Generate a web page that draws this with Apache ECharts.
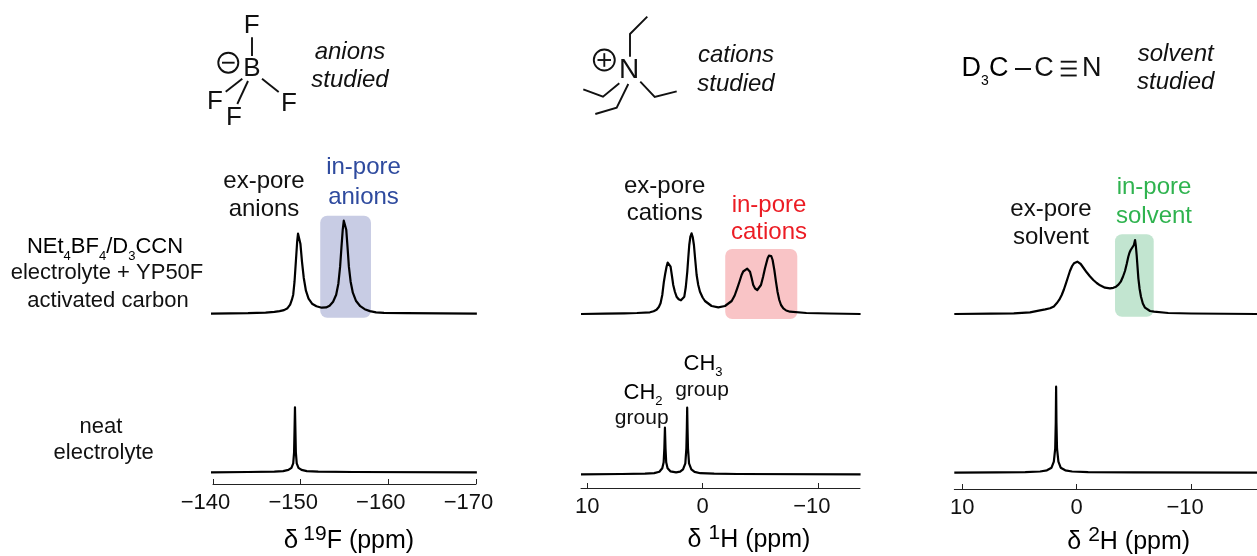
<!DOCTYPE html>
<html>
<head>
<meta charset="utf-8">
<script src="https://cdn.jsdelivr.net/npm/echarts@6/dist/echarts.min.js"></script>
<style>html,body{margin:0;padding:0;background:#fff}#c{width:1257px;height:556px}</style>
</head>
<body>
<div id="c"></div>
<script>
// Spectra: [chemical shift in ppm, intensity].
var fluorinePoreSpectrum = [[-139.7,0],[-142,0.3],[-144,0.5],[-146,1.1],[-147,1.8],[-147.6,2.6],[-148.1,3.6],[-148.5,5.5],[-148.8,9],[-149,14],[-149.15,19],[-149.3,32],[-149.45,52],[-149.6,72],[-149.7,80],[-149.77,82],[-149.85,80],[-149.97,70],[-150.15,52],[-150.35,36],[-150.6,23],[-150.9,15],[-151.3,10],[-151.8,7.5],[-152.4,6],[-152.9,6.3],[-153.3,8],[-153.7,12],[-154.05,19],[-154.3,30],[-154.5,47],[-154.65,66],[-154.8,84],[-154.92,93],[-155,95],[-155.08,93],[-155.2,84],[-155.35,66],[-155.5,47],[-155.7,32],[-155.95,21],[-156.3,13],[-156.8,7.5],[-157.3,4.5],[-157.9,2.6],[-158.6,1.4],[-159.5,0.8],[-162,0.5],[-166,0.3],[-170.1,0]];
var fluorineNeatSpectrum = [[-139.7,0],[-144,0.3],[-147,0.6],[-148,1.2],[-148.6,2.4],[-148.95,4.5],[-149.15,9],[-149.25,20],[-149.3,42],[-149.35,65],[-149.4,42],[-149.45,20],[-149.55,9],[-149.75,4.5],[-150.1,2.4],[-150.7,1.2],[-152,0.6],[-156,0.3],[-170.1,0]];
var protonPoreSpectrum = [[10.55,0],[8.5,0.3],[6.8,0.7],[5.7,1],[4.57,1.7],[4.25,2.8],[4,4.2],[3.8,7],[3.65,10.7],[3.5,19],[3.36,32.3],[3.25,40],[3.13,47.3],[3.03,51.5],[2.95,53],[2.87,51.5],[2.78,47.3],[2.66,38],[2.55,29],[2.4,22],[2.26,17.3],[2.08,14.8],[1.88,13.7],[1.72,14.8],[1.59,17.3],[1.46,27],[1.33,42.3],[1.24,57],[1.16,69],[1.06,77.5],[0.96,80.7],[0.86,77],[0.755,69],[0.64,54],[0.52,39],[0.38,29],[0.23,22.3],[0,16.5],[-0.2,13],[-0.78,8],[-1.36,6.7],[-1.94,8],[-2.52,13],[-2.78,18.5],[-3,25.7],[-3.2,32.5],[-3.38,39],[-3.52,42.5],[-3.67,44.5],[-3.87,45.3],[-4,44.3],[-4.11,42.3],[-4.25,36],[-4.39,29],[-4.55,25.5],[-4.74,24],[-4.9,25.5],[-5.06,29],[-5.24,37],[-5.41,45.7],[-5.53,51],[-5.64,55.7],[-5.75,58.3],[-5.84,59],[-5.95,58],[-6.07,54],[-6.22,44],[-6.36,32.3],[-6.5,22],[-6.65,14],[-6.8,9],[-7,5.7],[-7.25,3.5],[-7.58,2.3],[-9,1],[-11,0.5],[-13.7,0]];
var protonNeatSpectrum = [[10.55,0],[7,0.3],[5,0.6],[4.2,1.2],[3.75,2.5],[3.5,6],[3.38,12],[3.32,26],[3.27,46.6],[3.22,26],[3.16,12],[3.04,6],[2.8,3],[2.3,2],[1.95,2.6],[1.7,5],[1.5,11],[1.41,26],[1.37,46],[1.34,66.6],[1.31,46],[1.27,26],[1.18,11],[0.98,5],[0.7,2.4],[0.2,1.1],[-1,0.6],[-3,0.3],[-13.7,0]];
var deuteriumPoreSpectrum = [[10.7,0],[7.5,0.3],[5.5,0.7],[4.08,1.7],[3.21,3.7],[2.75,4.6],[2.33,5.7],[2,7.6],[1.75,10.7],[1.52,14.3],[1.31,19],[1.12,24.5],[0.94,30.7],[0.76,37],[0.59,43],[0.4,48],[0.24,50.7],[0.1,52],[-0.055,52.3],[-0.2,51.5],[-0.35,50],[-0.6,46],[-0.87,41.7],[-1.15,37.7],[-1.45,34],[-1.75,31],[-2.04,28.7],[-2.47,26.3],[-2.91,25.7],[-3.2,26.2],[-3.44,27.3],[-3.65,29.3],[-3.85,32.3],[-4.05,37.5],[-4.22,43],[-4.37,50],[-4.51,57.3],[-4.62,61.5],[-4.72,64],[-4.89,65.7],[-5,69],[-5.1,74],[-5.17,68],[-5.24,59],[-5.39,35.7],[-5.5,25],[-5.62,17.3],[-5.78,10.5],[-5.97,6.3],[-6.41,3],[-6.76,2.3],[-8,1],[-10,0.5],[-15.8,0]];
var deuteriumNeatSpectrum = [[10.7,0],[7,0.3],[4.5,0.6],[3.2,1.2],[2.6,2.4],[2.2,5],[2,11],[1.88,24],[1.83,50],[1.8,86],[1.77,50],[1.72,24],[1.6,11],[1.4,5],[1,2.4],[0.4,1.2],[-1,0.6],[-5,0.3],[-15.8,0]];

// Shaded in-pore bands: [shift start, shift end, intensity top, intensity bottom]
var anionBand = [[-152.23,-158.02,98,-4]];
var cationBand = [[-1.96,-8.21,65,-5]];
var solventBand = [[-3.35,-6.73,79.7,-2.7]];

var fluorineTicks = [-140,-150,-160,-170];
var protonTicks = [10,0,-10];
var deuteriumTicks = [10,0,-10];

var FONT = '"Liberation Sans", Helvetica, Arial, sans-serif';
var columns = [
  {left:213,  width:263,   min:-170,   max:-140,  ticks:fluorineTicks,  pore:fluorinePoreSpectrum,  neat:fluorineNeatSpectrum,  band:anionBand,   color:'#c8cce4', b1:313.7, b2:472.3, axisY:484, margin:7.5, shift:15},
  {left:581,  width:279,   min:-13.65, max:10.55, ticks:protonTicks,    pore:protonPoreSpectrum,    neat:protonNeatSpectrum,    band:cationBand,  color:'#f9c4c6', b1:314,   b2:474.3, axisY:488, margin:7.5, shift:12},
  {left:954.3,width:302.7, min:-15.76, max:10.7,  ticks:deuteriumTicks, pore:deuteriumPoreSpectrum, neat:deuteriumNeatSpectrum, band:solventBand, color:'#c2e5d0', b1:314,   b2:472.7, axisY:489, margin:7.5, shift:12}
];

var grids=[],xAxes=[],yAxes=[],series=[];
columns.forEach(function(c){
  var rows=[
    {top:c.b1-120,h:136,ymin:-16,ymax:120,data:c.pore,show:false,band:c.band},
    {top:c.b2-100,h:100+(c.axisY-c.b2),ymin:-(c.axisY-c.b2),ymax:100,data:c.neat,show:true}
  ];
  rows.forEach(function(r){
    var i=grids.length;
    grids.push({left:c.left,width:c.width,top:r.top,height:r.h,containLabel:false});
    xAxes.push({gridIndex:i,type:'value',inverse:true,min:c.min,max:c.max,show:r.show,splitLine:{show:false},
      axisLine:{show:true,onZero:false,lineStyle:{color:'#222',width:1}},
      axisTick:{show:true,inside:true,length:5,lineStyle:{color:'#222',width:1},customValues:c.ticks},
      axisLabel:{show:true,margin:c.margin,fontFamily:FONT,fontSize:22,color:'#111',hideOverlap:false,showMinLabel:true,showMaxLabel:true,customValues:c.ticks,
        rich:{neg:{fontFamily:FONT,fontSize:22,color:'#111',padding:[0,c.shift,0,0]},pos:{fontFamily:FONT,fontSize:22,color:'#111'}},
        formatter:function(v){return v<0?'{neg|'+String(v).replace('-','\u2212')+'}':'{pos|'+v+'}';}}
    });
    yAxes.push({gridIndex:i,type:'value',min:r.ymin,max:r.ymax,show:false,splitLine:{show:false}});
    if(r.band){
      var col=c.color;
      series.push({type:'custom',xAxisIndex:i,yAxisIndex:i,coordinateSystem:'cartesian2d',z:1,silent:true,clip:false,
        data:r.band,encode:{x:[0,1],y:[2,3]},
        renderItem:function(p,api){
          var a=api.coord([api.value(0),api.value(2)]),b=api.coord([api.value(1),api.value(3)]);
          return {type:'rect',shape:{x:a[0],y:a[1],width:b[0]-a[0],height:b[1]-a[1],r:7},style:{fill:col}};
        }});
    }
    series.push({type:'line',xAxisIndex:i,yAxisIndex:i,data:r.data,z:3,symbol:'none',clip:false,smooth:false,silent:true,
      lineStyle:{color:'#000',width:2.2,join:'round'},animation:false});
  });
});

function richOf(lh){
  return {
    n:{fontFamily:FONT,fontSize:22,color:'#111',lineHeight:lh},
    c:{fontFamily:FONT,fontSize:22,color:'#111',lineHeight:lh},
    s:{fontFamily:FONT,fontSize:13,color:'#111',verticalAlign:'bottom'},
    a:{fontFamily:FONT,fontSize:25,color:'#111',lineHeight:lh},
    g:{fontFamily:FONT,fontSize:26,color:'#111',lineHeight:lh,padding:[0,5,0,0]},
    u:{fontFamily:FONT,fontSize:21,color:'#111',verticalAlign:'top'},
    d:{fontFamily:FONT,fontSize:27,color:'#111',lineHeight:lh},
    t:{fontFamily:FONT,fontSize:14,color:'#111',verticalAlign:'bottom'}
  };
}
function T(text,x,y,size,color,extra){
  var st={text:text,fontFamily:FONT,fontSize:size,fill:color||'#111',align:'center',verticalAlign:'middle'};
  if(extra) for(var k in extra) st[k]=extra[k];
  return {type:'text',x:x,y:y,style:st,z:10,silent:true};
}
function R(text,x,y,lh){
  return {type:'text',x:x,y:y,z:10,silent:true,style:{text:text,rich:richOf(lh),align:'center',verticalAlign:'middle',fontFamily:FONT}};
}
function L(pts,w){return {type:'polyline',z:10,silent:true,shape:{points:pts},style:{stroke:'#111',lineWidth:w||1.9,fill:null}};}
function Circ(x,y,r){return {type:'circle',z:10,silent:true,shape:{cx:x,cy:y,r:r},style:{stroke:'#111',lineWidth:1.9,fill:null}};}

var g=[
  // BF4 structure
  T('F',251.7,25.5,26),T('B',252,69,26),T('F',215,102,26),T('F',234,118,26),T('F',289,103.5,26),
  L([[252,37.3],[252,56]]),L([[242.3,78.7],[225.7,91.7]]),L([[248,81],[237.3,104]]),L([[262,78.7],[278.7,92]]),
  Circ(228.3,62.7,10),L([[222,62.7],[234.6,62.7]]),
  T('anions',350,52,24,'#111',{fontStyle:'italic'}),T('studied',350,80,24,'#111',{fontStyle:'italic'}),
  // NEt4 structure
  T('N',629,70.5,28),
  L([[647.3,16.7],[630,34],[630,56.7]]),L([[619.3,83.3],[603,96.7],[583.3,89.3]]),L([[628.3,84],[616.7,107.7],[595.3,114]]),L([[640.3,81.7],[654.7,97],[676.7,91.3]]),
  Circ(604.3,60,10.5),L([[597.5,60],[611,60]]),L([[604.3,53.2],[604.3,66.8]]),
  T('cations',736,55,24,'#111',{fontStyle:'italic'}),T('studied',736,84,24,'#111',{fontStyle:'italic'}),
  // D3CCN structure
  R('{d|D}{t|3}{d|C}',985,68.5,40),T('C',1044,68.5,27),T('N',1091.7,68.5,27),
  L([[1015,69],[1031,69]],2),L([[1060.7,61.7],[1076.7,61.7]],1.9),L([[1060.7,68.5],[1076.7,68.5]],1.9),L([[1060.7,75.5],[1076.7,75.5]],1.9),
  T('solvent',1175.7,54,24,'#111',{fontStyle:'italic'}),T('studied',1175.7,82.3,24,'#111',{fontStyle:'italic'}),
  // row labels
  R('{n|NEt}{s|4}{n|BF}{s|4}{n|/D}{s|3}{n|CCN}',105,247,32),
  T('electrolyte + YP50F',107,273,22),T('activated carbon',108,300.7,22),
  T('neat',101,426.7,22),T('electrolyte',103.7,452.7,22),
  // peak labels
  T('ex-pore',264,181.5,24),T('anions',264,209.5,24),
  T('in-pore',363.5,167,24,'#2e4a9e'),T('anions',363.5,197,24,'#2e4a9e'),
  T('ex-pore',664.7,186.7,24),T('cations',664.7,213.3,24),
  T('in-pore',769,205,24,'#ec1c24'),T('cations',769,232.3,24,'#ec1c24'),
  T('ex-pore',1051,209,24),T('solvent',1051,237.7,24),
  T('in-pore',1154,187,24,'#2fb34f'),T('solvent',1154,216.7,24,'#2fb34f'),
  R('{c|CH}{s|2}',643,392.7,30),T('group',641.7,418,21),
  R('{c|CH}{s|3}',703,364,30),T('group',702,390,21),
  // axis titles
  R('{g|\u03b4}{u|19}{a|F (ppm)}',349,541,35),
  R('{a|\u03b4 }{u|1}{a|H (ppm)}',749,540,35),
  R('{a|\u03b4 }{u|2}{a|H (ppm)}',1128.7,542,35)
];

var chart=echarts.init(document.getElementById('c'),null,{renderer:'canvas'});
chart.setOption({animation:false,backgroundColor:'#fff',grid:grids,xAxis:xAxes,yAxis:yAxes,series:series,graphic:{elements:g}});
</script>
</body>
</html>
